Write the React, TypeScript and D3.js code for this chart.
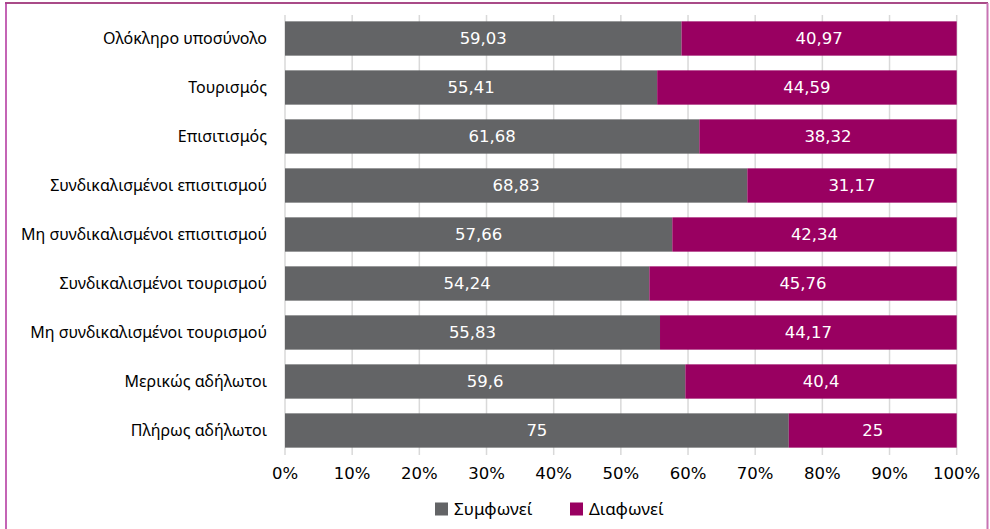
import React from "react";
import * as d3 from "d3";

const categories = [
  "Ολόκληρο υποσύνολο",
  "Τουρισμός",
  "Επισιτισμός",
  "Συνδικαλισμένοι επισιτισμού",
  "Μη συνδικαλισμένοι επισιτισμού",
  "Συνδικαλισμένοι τουρισμού",
  "Μη συνδικαλισμένοι τουρισμού",
  "Μερικώς αδήλωτοι",
  "Πλήρως αδήλωτοι",
];
const agree = [59.03, 55.41, 61.68, 68.83, 57.66, 54.24, 55.83, 59.6, 75];
const disagree = [40.97, 44.59, 38.32, 31.17, 42.34, 45.76, 44.17, 40.4, 25];
const seriesNames = ["Συμφωνεί", "Διαφωνεί"];
const seriesColors = ["#636466", "#990061"];
const xTicks = [0, 10, 20, 30, 40, 50, 60, 70, 80, 90, 100];

const W = 990;
const H = 529;
const catFont = "'Noto Sans', 'Open Sans', sans-serif";
const numFont = "'DejaVu Sans', sans-serif";

export default function App() {
  const x = d3.scaleLinear().domain([0, 100]).range([285, 956.7]);
  const y = d3.scaleBand<string>().domain(categories).range([14, 455]).paddingInner(0.3).paddingOuter(0.15);
  const fmt = (v: number) => String(v).replace(".", ",");

  const rows = categories.map((c, i) => {
    const segs = [
      { s: 0, x0: 0, x1: agree[i], v: agree[i] },
      { s: 1, x0: agree[i], x1: agree[i] + disagree[i], v: disagree[i] },
    ];
    return { c, segs };
  });

  return (
    <svg
      width={W}
      height={H}
      style={{ position: "absolute", left: 0, top: 0, background: "#fff" }}
    >
      <rect x={0} y={0} width={W} height={H} fill="#fff" />
      {/* border */}
      <line x1={5} x2={988} y1={3} y2={3} stroke="#8d0f60" strokeWidth={1.5} />
      <line x1={6} x2={6} y1={3} y2={H} stroke="#b0309c" strokeWidth={1.5} />
      <line x1={987.5} x2={987.5} y1={3} y2={H} stroke="#c874b3" strokeWidth={2} />

      {/* gridlines */}
      {xTicks.map((t) => (
        <line
          key={"g" + t}
          x1={x(t)}
          x2={x(t)}
          y1={15}
          y2={455}
          stroke="#d9d9d9"
          strokeWidth={1.5}
        />
      ))}

      {/* bars */}
      {rows.map((r) => (
        <g key={r.c}>
          {r.segs.map((sg) => (
            <g key={sg.s}>
              <rect
                x={x(sg.x0)}
                y={y(r.c)!}
                width={x(sg.x1) - x(sg.x0)}
                height={y.bandwidth()}
                fill={seriesColors[sg.s]}
              />
              <text
                x={(x(sg.x0) + x(sg.x1)) / 2}
                y={y(r.c)! + y.bandwidth() / 2}
                dy="0.36em"
                textAnchor="middle"
                fill="#fff"
                fontFamily={numFont}
                fontSize={16.5}
              >
                {fmt(sg.v)}
              </text>
            </g>
          ))}
          <text
            x={267}
            y={y(r.c)! + y.bandwidth() / 2}
            dy="0.35em"
            textAnchor="end"
            fill="#000"
            fontFamily={catFont}
            fontSize={16}
          >
            {r.c}
          </text>
        </g>
      ))}

      {/* x tick labels */}
      {xTicks.map((t) => (
        <text
          key={"t" + t}
          x={x(t)}
          y={473}
          dy="0.36em"
          textAnchor="middle"
          fill="#000"
          fontFamily={numFont}
          fontSize={16.5}
        >
          {t + "%"}
        </text>
      ))}

      {/* legend */}
      {seriesNames.map((n, i) => {
        const lx = [435, 570][i];
        return (
          <g key={n}>
            <rect x={lx} y={502.5} width={13} height={13} fill={seriesColors[i]} />
            <text
              x={lx + 19}
              y={509}
              dy="0.35em"
              fill="#000"
              fontFamily={catFont}
              fontSize={17}
            >
              {n}
            </text>
          </g>
        );
      })}
    </svg>
  );
}
